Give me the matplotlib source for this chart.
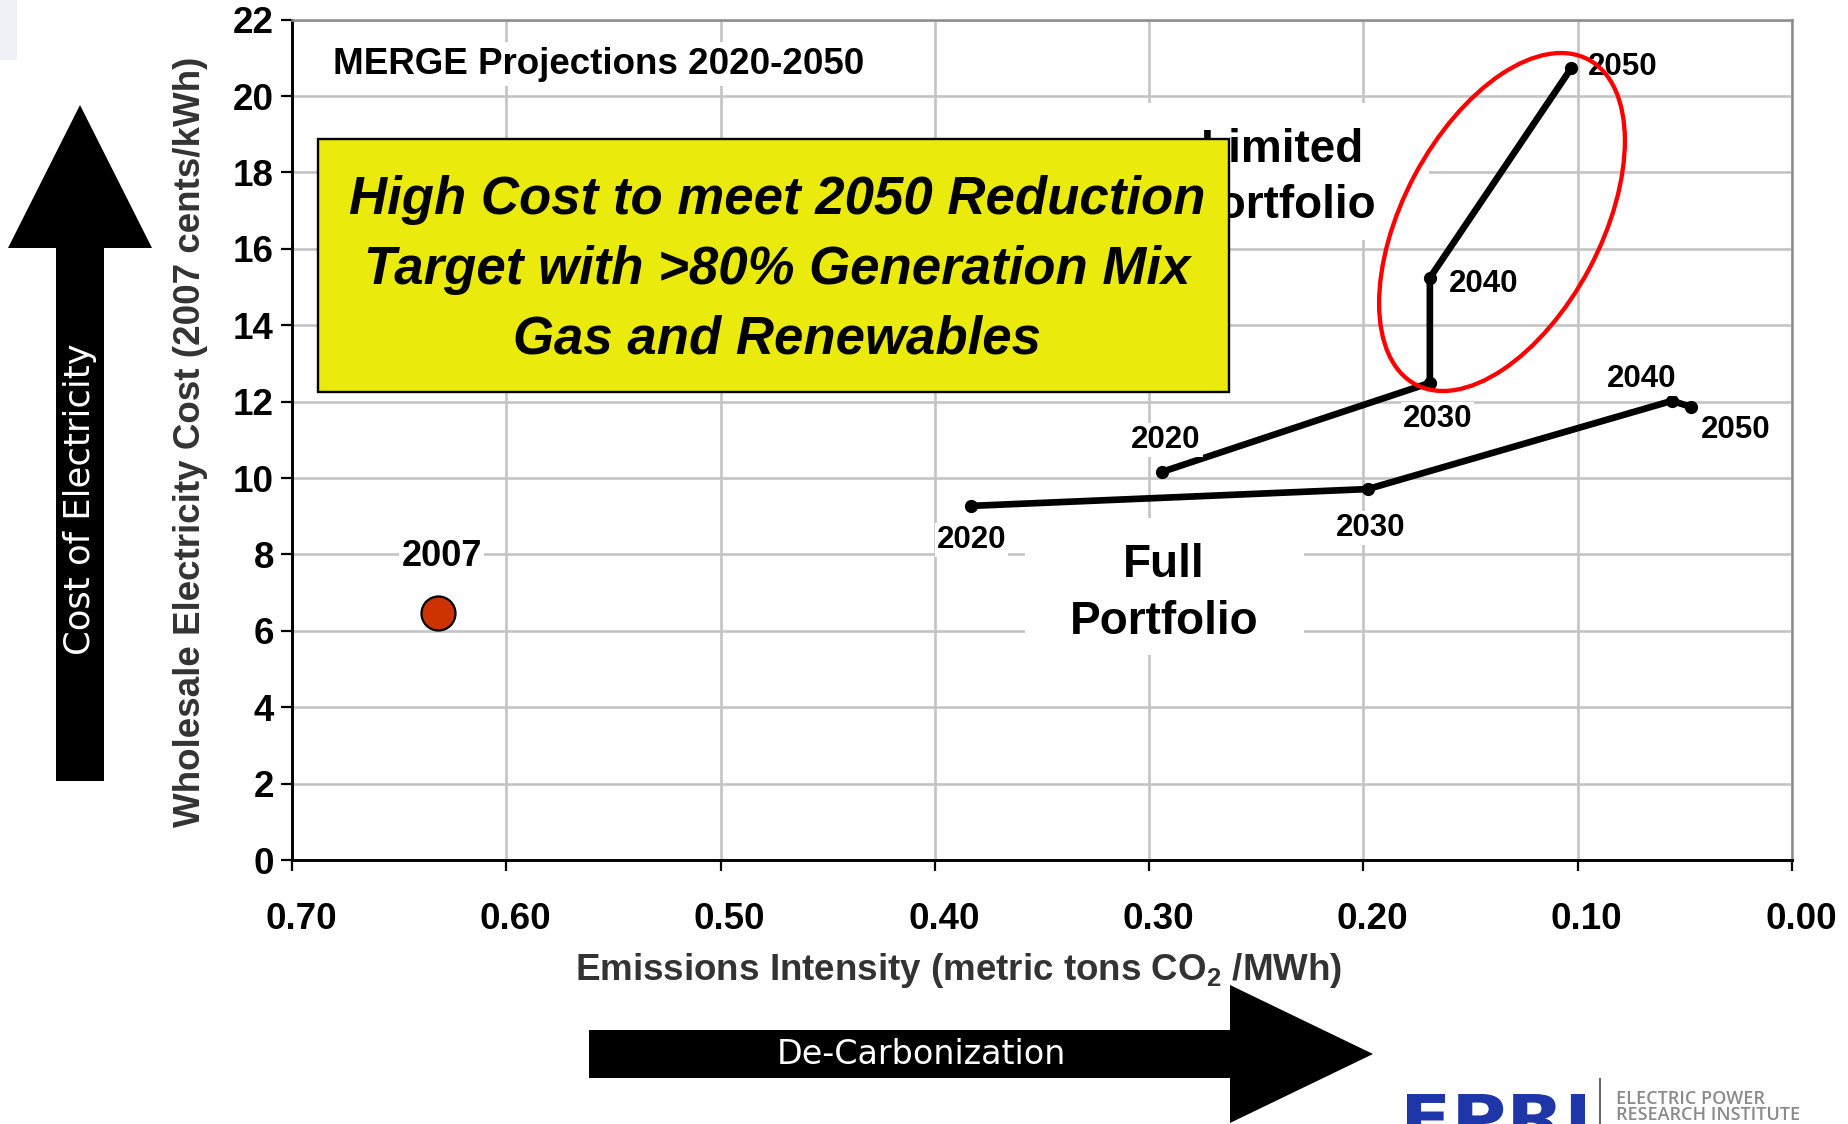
import matplotlib
matplotlib.use("Agg")
import matplotlib.pyplot as plt
from matplotlib.patches import Rectangle, Polygon, Ellipse, PathPatch
from matplotlib.lines import Line2D
from matplotlib.transforms import Affine2D, ScaledTranslation
from matplotlib.textpath import TextPath
from matplotlib.font_manager import FontProperties

plt.rcParams["font.family"] = ["Liberation Sans", "DejaVu Sans"]
plt.rcParams["mathtext.fontset"] = "custom"
plt.rcParams["mathtext.rm"] = "Liberation Sans:bold"
plt.rcParams["mathtext.bf"] = "Liberation Sans:bold"
plt.rcParams["mathtext.it"] = "Liberation Sans:bold:italic"

# ---------------- data ----------------
years = ["2020", "2030", "2040", "2050"]
full_x = [0.383, 0.198, 0.056, 0.047]
full_y = [9.27, 9.71, 12.02, 11.86]
limited_x = [0.294, 0.169, 0.169, 0.103]
limited_y = [10.16, 12.49, 15.24, 20.73]
base_label = "2007"
base_x = [0.632]
base_y = [6.47]
x_ticks = [0.70, 0.60, 0.50, 0.40, 0.30, 0.20, 0.10, 0.00]
x_tick_labels = ["0.70", "0.60", "0.50", "0.40", "0.30", "0.20", "0.10", "0.00"]
y_ticks = [0, 2, 4, 6, 8, 10, 12, 14, 16, 18, 20, 22]
y_tick_labels = ["0", "2", "4", "6", "8", "10", "12", "14", "16", "18", "20", "22"]
title_text = "MERGE Projections 2020-2050"
box_lines = ["High Cost to meet 2050 Reduction",
             "Target with >80% Generation Mix",
             "Gas and Renewables"]
x_label = r"Emissions Intensity (metric tons CO$_\mathbf{2}$ /MWh)"
y_label = "Wholesale Electricity Cost (2007 cents/kWh)"

# ---------------- layout (pixel offsets for labels) ----------------
full_label_off = [(0, -31), (3, -36), (-30, 25), (44, -20)]
limited_label_off = [(4, 35), (8, -33), (54, -3), (51, 4)]
base_label_off = (4, 60)

W, H = 1848, 1124
fig = plt.figure(figsize=(W / 100, H / 100), dpi=100)
fig.patch.set_facecolor("white")
# pixel transform with top-left origin
T = Affine2D().scale(1.0 / W, -1.0 / H).translate(0, 1) + fig.transFigure

ax = fig.add_axes([292 / W, 1 - 860 / H, 1500 / W, (860 - 19.6) / H])
ax.set_xlim(0.70, 0.00)
ax.set_ylim(0, 22)
ax.set_axisbelow(True)
ax.grid(True, color="#C4C4C4", lw=1.9)

ax.set_xticks(x_ticks, labels=x_tick_labels, fontsize=26.5, fontweight="bold")
ax.set_yticks(y_ticks, labels=y_tick_labels, fontsize=26.5, fontweight="bold")
ax.tick_params(axis="x", direction="out", length=8, width=1.6, pad=22)
ax.tick_params(axis="y", direction="out", length=8, width=1.6, pad=5)
for lab in ax.get_xticklabels():
    lab.set_transform(lab.get_transform() + ScaledTranslation(0.09, 0, fig.dpi_scale_trans))

for s in ["left", "bottom"]:
    ax.spines[s].set_color("black")
    ax.spines[s].set_linewidth(2.1)
for s in ["top", "right"]:
    ax.spines[s].set_color("#8C8C8C")
    ax.spines[s].set_linewidth(1.8)

# series
ax.plot(full_x, full_y, color="black", lw=4.8, marker="o", ms=8.5, zorder=3, clip_on=False)
ax.plot(limited_x, limited_y, color="black", lw=4.8, marker="o", ms=8.5, zorder=3, clip_on=False)
ax.plot(base_x, base_y, linestyle="none", marker="o", ms=24.5, mfc="#CC3300", mec="black",
        mew=1.6, zorder=3, clip_on=False)


def year_label(x, y, s, off, size):
    em = size * 100 / 72
    ax.annotate(s, (x, y), xytext=(off[0], off[1] - 0.358 * em), textcoords="offset pixels",
                ha="center", va="baseline", fontsize=size, fontweight="bold", color="black",
                bbox=dict(boxstyle="square,pad=0.06", fc="white", ec="none"),
                zorder=4, annotation_clip=False)


for x, y, s, off in zip(full_x, full_y, years, full_label_off):
    year_label(x, y, s, off, 22.5)
for x, y, s, off in zip(limited_x, limited_y, years, limited_label_off):
    year_label(x, y, s, off, 22.5)
year_label(base_x[0], base_y[0], base_label, base_label_off, 26)

# axis labels
fig.text(191, 442, y_label, transform=T, rotation=90, ha="center", va="center",
         fontsize=26.5, fontweight="bold", color="#333333")
fig.text(959, 980, x_label, transform=T, ha="center", va="baseline",
         fontsize=26.5, fontweight="bold", color="#333333")

# title inside plot
fig.text(333, 73.5, title_text, transform=T, ha="left", va="baseline", fontsize=26.5,
         fontweight="bold", color="black", zorder=2,
         bbox=dict(boxstyle="square,pad=0.12", fc="white", ec="none"))

# portfolio names with white backgrounds
fig.add_artist(Rectangle((1135, 103), 294, 137, transform=T, fc="white", ec="none", zorder=1))
fig.add_artist(Rectangle((1025, 518), 279, 137, transform=T, fc="white", ec="none", zorder=1))
fig.text(1282, 162, "Limited", transform=T, ha="center", va="baseline", fontsize=33,
         fontweight="bold", color="black", zorder=2)
fig.text(1282, 218, "Portfolio", transform=T, ha="center", va="baseline", fontsize=33,
         fontweight="bold", color="black", zorder=2)
fig.text(1164, 577, "Full", transform=T, ha="center", va="baseline", fontsize=33,
         fontweight="bold", color="black", zorder=2)
fig.text(1164, 634, "Portfolio", transform=T, ha="center", va="baseline", fontsize=33,
         fontweight="bold", color="black", zorder=2)

# yellow call-out box
fig.add_artist(Rectangle((318, 139), 911, 253, transform=T, fc="#EAEA0C", ec="black",
                         lw=1.7, zorder=3))
for yb, line in zip([214, 284, 354], box_lines):
    fig.text(777, yb, line, transform=T, ha="center", va="baseline", fontsize=38,
             fontweight="bold", fontstyle="italic", color="black", zorder=4)

# red ellipse
fig.add_artist(Ellipse((1502, 222), 198, 368, angle=28, transform=T, fc="none",
                       ec="#FF0000", lw=3.1, zorder=5))

# up arrow (cost of electricity)
fig.add_artist(Polygon([(56, 781), (56, 248), (8, 248), (80, 105), (152, 248), (104, 248),
                        (104, 781)], closed=True, transform=T, fc="black", ec="none", zorder=5))
fig.text(80, 499, "Cost of Electricity", transform=T, rotation=90, ha="center", va="center",
         fontsize=25.5, family="DejaVu Sans", color="white", zorder=6)

# right arrow (de-carbonization)
fig.add_artist(Polygon([(589, 1030), (1230, 1030), (1230, 985), (1373, 1054), (1230, 1123),
                        (1230, 1078), (589, 1078)], closed=True, transform=T, fc="black",
                       ec="none", zorder=5))
fig.text(921, 1054, "De-Carbonization", transform=T, ha="center", va="center",
         fontsize=24, family="DejaVu Sans", color="white", zorder=6)

# EPRI logo (partially cut by the bottom edge)
tp = TextPath((0, 0), "EPRI", size=100, prop=FontProperties(family="DejaVu Sans", weight="bold"))
ext = tp.get_extents()
sx = 178 / (ext.x1 - ext.x0)
sy = 46 / (ext.y1 - ext.y0)
aff = Affine2D().translate(-ext.x0, -ext.y1).scale(sx, -sy).translate(1407, 1094)
fig.add_artist(PathPatch(tp, transform=aff + T, fc="#1E36A8", ec="none", zorder=5))
fig.add_artist(Line2D([1600, 1600], [1079, 1124], transform=T, color="#555555", lw=1.3, zorder=5))
fig.text(1616, 1104, "ELECTRIC POWER", transform=T, ha="left", va="baseline", fontsize=13,
         family="Open Sans", fontweight="semibold", color="#8A8A8A", zorder=5)
fig.text(1616, 1120, "RESEARCH INSTITUTE", transform=T, ha="left", va="baseline", fontsize=13,
         family="Open Sans", fontweight="semibold", color="#8A8A8A", zorder=5)

# faint tint at top-left corner
fig.add_artist(Rectangle((0, 0), 17, 60, transform=T, fc="#F0F0F7", ec="none", zorder=0.5))

fig.savefig("out.png", dpi=100)
